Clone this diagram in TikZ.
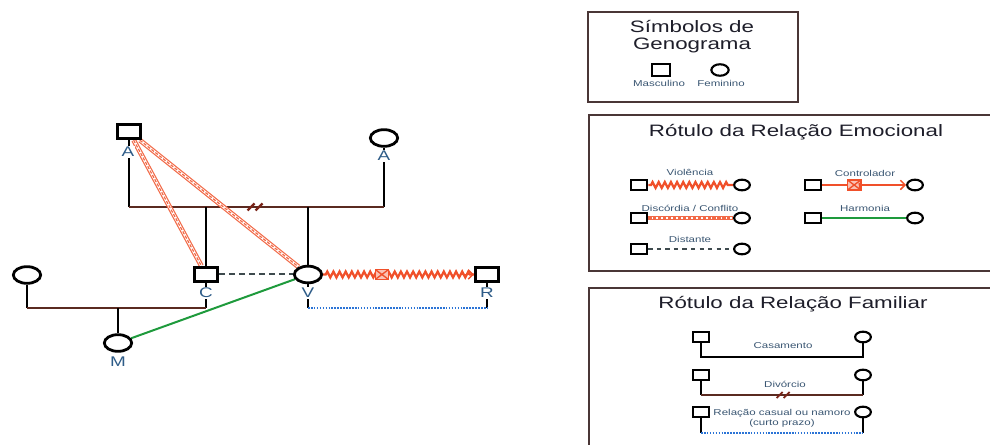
\documentclass[tikz,border=0pt]{standalone}
\usepackage{fontspec}
\setmainfont{Liberation Sans}[FakeStretch=1.35]
\usetikzlibrary{shapes.geometric,decorations.pathmorphing,arrows.meta}
\pgfdeclarelayer{bg}
\pgfsetlayers{bg,main}
\definecolor{linebrown}{HTML}{5A2A20}
\definecolor{divred}{HTML}{7A2418}
\definecolor{confl}{HTML}{F26A48}
\definecolor{viol}{HTML}{F0502A}
\definecolor{harm}{HTML}{1E9A3C}
\definecolor{casualblue}{HTML}{2B74D6}
\definecolor{distc}{HTML}{3E4A4E}
\definecolor{lbl}{HTML}{2E5C88}
\definecolor{smalllbl}{HTML}{3A5672}
\definecolor{titlec}{HTML}{1E1E2A}
\definecolor{framec}{HTML}{4A3636}

\begin{document}
\begin{tikzpicture}[x=0.75pt,y=-0.75pt,
  male/.style={draw=black, line width=2.1pt, rectangle, minimum width=17.5pt,
    minimum height=11pt, inner sep=0pt, fill=white},
  female/.style={draw=black, line width=2.1pt, ellipse, minimum width=20.5pt,
    minimum height=12.5pt, inner sep=0pt, fill=white},
  smale/.style={male, line width=1.6pt, minimum width=12.4pt, minimum height=7.9pt},
  sfemale/.style={female, line width=1.6pt, minimum width=11.8pt, minimum height=8pt},
  bmale/.style={male, line width=1.6pt, minimum width=13.6pt, minimum height=8.4pt},
  bfemale/.style={female, line width=1.6pt, minimum width=13pt, minimum height=8.6pt},
  personlbl/.style={text=lbl, font=\fontsize{10.5}{11}\selectfont, fill=white, inner sep=0.6pt},
  legendlbl/.style={text=smalllbl, font=\fontsize{6.4}{7.5}\selectfont, inner sep=0pt, align=center},
  boxtitle/.style={text=titlec, font=\fontsize{12.4}{12.8}\selectfont, align=center, inner sep=0pt},
  stem/.style={draw=black, line width=1.8pt},
  marriage/.style={draw=linebrown, line width=1.8pt},
  divmark/.style={draw=divred, line width=1.7pt},
  distant/.style={draw=distc, line width=1.5pt, dash pattern=on 4.5pt off 3pt},
  harmony/.style={draw=harm, line width=1.5pt},
  casual/.style={draw=casualblue, line width=1.3pt, dash pattern=on 1.2pt off 1pt},
  conflict/.style={draw=confl, line width=0.9pt, dash pattern=on 2.4pt off 1.3pt,
    preaction={draw=confl, double=white, double distance=1.9pt}},
  violence/.style={draw=viol, line width=1.7pt, decorate,
    decoration={zigzag, amplitude=2.2pt, segment length=4.6pt, pre length=2pt, post length=2pt}},
  ctrlarrow/.style={draw=viol, line width=1.1pt, -{Straight Barb[length=3.5pt,width=7pt]}},
  ctrlbox/.style={draw=viol, line width=1.1pt, fill=viol!35, rectangle, minimum width=10pt,
    minimum height=7.5pt, inner sep=0pt,
    path picture={\draw[viol, line width=1pt]
      (path picture bounding box.south west) -- (path picture bounding box.north east)
      (path picture bounding box.north west) -- (path picture bounding box.south east);}},
  boxframe/.style={draw=framec, line width=1.2pt}
]
\useasboundingbox (0,0) rectangle (990,445);

% ---------------- family tree ----------------
\node[male] (A1) at (129,131.5) {};
\node[personlbl] (la1) at (128,152) {A};
\node[female] (A2) at (384,138) {};
\node[personlbl] (la2) at (384,156) {A};
\node[male] (C) at (206,274.5) {};
\node[personlbl] (lc) at (206,293) {C};
\node[female] (V) at (308,274.5) {};
\node[personlbl] (lv) at (308,293) {V};
\node[male] (R) at (487,274.5) {};
\node[personlbl] (lr) at (487,293) {R};
\node[female] (W) at (27,275) {};
\node[female] (M) at (118,343) {};
\node[personlbl] (lm) at (118,362) {M};
\coordinate (y1) at (0,207);
\coordinate (y2) at (0,308);

\begin{pgfonlayer}{bg}
  % divorced parents
  \draw[stem] (A1) -- (A1 |- y1);
  \draw[stem] (A2) -- (A2 |- y1);
  \draw[marriage] (A1 |- y1) -- coordinate[midway] (dv) (A2 |- y1);
  \draw[stem] (C |- y1) -- (C);
  \draw[stem] (V |- y1) -- (V);
  % C's marriage and daughter
  \draw[stem] (W) -- (W |- y2);
  \draw[stem] (C) -- (C |- y2);
  \draw[marriage] (W |- y2) -- (C |- y2);
  \draw[stem] (M |- y2) -- (M);
  % V and R, short-term relationship
  \draw[stem, line width=1.3pt] (V) -- (V |- y2);
  \draw[stem, line width=1.3pt] (R) -- (R |- y2);
  \draw[casual] (V |- y2) -- (R |- y2);
  % emotional relations
  \draw[distant] (C) -- (V);
  \draw[harmony] (M) -- (V);
  \draw[conflict] (A1) -- (C);
  \draw[conflict] (A1) -- (V);
  \draw[violence] (V) -- (R);
  \path (V) -- node[ctrlbox, pos=0.39] (vb) {} (R);
  \draw[ctrlarrow] ([xshift=-9pt]R.west) -- (R.west);
\end{pgfonlayer}
\draw[divmark, shift={(dv)}] (-9,3.5) -- (-2,-3.5) (-1,3.5) -- (6,-3.5);

% ---------------- legend: symbols ----------------
\draw[boxframe] (588,12) rectangle (798,102);
\node[boxtitle] (t1) at (692,36.5) {Símbolos de\\Genograma};
\node[bmale] (s1) at (661,70) {};
\node[bfemale] (s2) at (720,70) {};
\node[legendlbl] (s1l) at (659,83) {Masculino};
\node[legendlbl] (s2l) at (721,83) {Feminino};

% ---------------- legend: emotional relations ----------------
\draw[boxframe] (995,115) -- (589,115) -- (589,271) -- (995,271);
\node[boxtitle] (t2) at (796,132) {Rótulo da Relação Emocional};

\node[smale] (e1a) at (639,185) {};
\node[sfemale] (e1b) at (742,185) {};
\draw[violence] (e1a) -- (e1b);
\node[legendlbl] (e1l) at (690,172.5) {Violência};

\node[smale] (e2a) at (639,218) {};
\node[sfemale] (e2b) at (742,218) {};
\draw[conflict] (e2a) -- (e2b);
\node[legendlbl] (e2l) at (690,208) {Discórdia / Conflito};

\node[smale] (e3a) at (639,249) {};
\node[sfemale] (e3b) at (742,249) {};
\draw[distant, line width=1.1pt, dash pattern=on 3.2pt off 3.2pt] (e3a) -- (e3b);
\node[legendlbl] (e3l) at (690,239) {Distante};

\node[smale] (e4a) at (813,185) {};
\node[sfemale] (e4b) at (915,185) {};
\draw[ctrlarrow] (e4a) -- node[ctrlbox, pos=0.38] (e4m) {} (e4b);
\node[legendlbl] (e4l) at (865,173) {Controlador};

\node[smale] (e5a) at (813,218) {};
\node[sfemale] (e5b) at (915,218) {};
\draw[harmony, line width=1.2pt] (e5a) -- (e5b);
\node[legendlbl] (e5l) at (865,208) {Harmonia};

% ---------------- legend: family relations ----------------
\draw[boxframe] (995,288) -- (589,288) -- (589,450);
\node[boxtitle] (t3) at (793,304) {Rótulo da Relação Familiar};

\coordinate (f1y) at (0,357);
\coordinate (f2y) at (0,395);
\coordinate (f3y) at (0,433);

\node[smale] (f1a) at (701,337) {};
\node[sfemale] (f1b) at (863,337) {};
\draw[stem, line width=1.5pt] (f1a) -- (f1a |- f1y) -- (f1b |- f1y) -- (f1b);
\node[legendlbl] (f1l) at (783,346) {Casamento};

\node[smale] (f2a) at (701,375) {};
\node[sfemale] (f2b) at (863,375) {};
\draw[stem, line width=1.5pt] (f2a) -- (f2a |- f2y);
\draw[stem, line width=1.5pt] (f2b) -- (f2b |- f2y);
\draw[marriage, line width=1.5pt] (f2a |- f2y) -- coordinate[pos=0.51] (fdv) (f2b |- f2y);
\draw[divmark, line width=1.4pt, shift={(fdv)}] (-7,3) -- (-1,-3) (0,3) -- (6,-3);
\node[legendlbl] (f2l) at (785,384) {Divórcio};

\node[smale] (f3a) at (701,412) {};
\node[sfemale] (f3b) at (863,412) {};
\draw[stem, line width=1.5pt] (f3a) -- (f3a |- f3y);
\draw[stem, line width=1.5pt] (f3b) -- (f3b |- f3y);
\draw[casual, line width=1.1pt] (f3a |- f3y) -- (f3b |- f3y);
\node[legendlbl] (f3l) at (782,418) {Relação casual ou namoro\\(curto prazo)};
\end{tikzpicture}
\end{document}
